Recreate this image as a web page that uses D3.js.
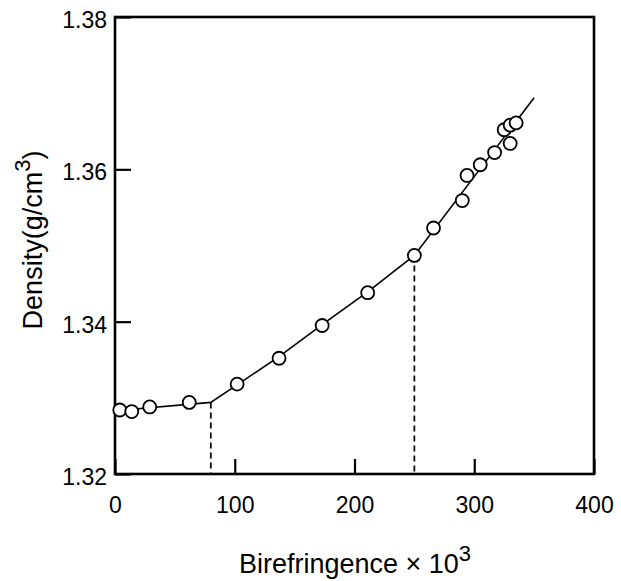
<!DOCTYPE html>
<html>
<head>
<meta charset="utf-8">
<script src="https://cdn.jsdelivr.net/npm/d3@7"></script>
<style>
  body { margin: 0; background: #fff; }
  svg { display: block; font-family: "Liberation Sans", Arial, sans-serif; }
</style>
</head>
<body>
<svg id="chart" width="621" height="581"></svg>
<script>
// measured points
const birefringence = [4, 14, 29, 62, 102, 137, 173, 211, 250, 266, 290, 294, 305, 317, 325, 330, 330, 335]
const density = [1.3284, 1.3282, 1.3288, 1.3294, 1.3318, 1.3352, 1.3395, 1.3438, 1.3487, 1.3523, 1.3559, 1.3592, 1.3606, 1.3622, 1.3652, 1.3658, 1.3634, 1.3661]

// fitted line (broken at the transitions)
const fitX = [0, 80, 137, 173, 211, 250, 350]
const fitY = [1.3283, 1.3294, 1.3354, 1.3396, 1.3439, 1.3487, 1.3694]
const transitions = [80, 250]

const xTicks = [0, 100, 200, 300, 400]
const yTicks = [1.32, 1.34, 1.36, 1.38]

const margin = { left: 115, top: 17, right: 27, bottom: 107 }
const width = 621 - margin.left - margin.right
const height = 581 - margin.top - margin.bottom

const x = d3.scaleLinear().domain([0, 400]).range([0, width])
const y = d3.scaleLinear().domain([1.32, 1.38]).range([height, 0])

const svg = d3.select('#chart')
const g = svg.append('g').attr('transform', `translate(${margin.left},${margin.top})`)

const xAxis = g.append('g')
    .attr('transform', `translate(0,${height})`)
    .call(d3.axisBottom(x).tickValues(xTicks).tickSize(-15).tickPadding(23).tickFormat(d3.format('d')))

const yAxis = g.append('g')
    .call(d3.axisLeft(y).tickValues(yTicks).tickSize(-16).tickPadding(8).tickFormat(d3.format('.2f')))

;[xAxis, yAxis].forEach(a => {
    a.select('.domain').remove()
    a.selectAll('line').attr('stroke', '#000').attr('stroke-width', 2.2)
    a.selectAll('text').attr('fill', '#000').attr('font-size', 23).attr('font-family', null)
})
yAxis.selectAll('text').attr('dy', '0.45em')

// frame
g.append('rect')
    .attr('width', width)
    .attr('height', height)
    .attr('fill', 'none')
    .attr('stroke', '#000')
    .attr('stroke-width', 2.6)

// dashed drop lines
transitions.forEach(t => {
    const i = fitX.indexOf(t)
    g.append('line')
        .attr('x1', x(t)).attr('x2', x(t))
        .attr('y1', y(fitY[i])).attr('y2', height)
        .attr('stroke', '#000')
        .attr('stroke-width', 1.7)
        .attr('stroke-dasharray', '6,4')
})

const line = d3.line().x(d => x(d[0])).y(d => y(d[1]))
g.append('path')
    .datum(fitX.map((v, i) => [v, fitY[i]]))
    .attr('d', line)
    .attr('fill', 'none')
    .attr('stroke', '#000')
    .attr('stroke-width', 1.6)

g.selectAll('circle')
    .data(birefringence.map((v, i) => [v, density[i]]))
    .join('circle')
    .attr('cx', d => x(d[0]))
    .attr('cy', d => y(d[1]))
    .attr('r', 6.5)
    .attr('fill', '#fff')
    .attr('stroke', '#000')
    .attr('stroke-width', 1.8)

// axis titles
const xt = svg.append('text')
    .attr('x', 355)
    .attr('y', 573)
    .attr('text-anchor', 'middle')
    .attr('font-size', 27)
xt.append('tspan').text('Birefringence \u00d7 10')
xt.append('tspan').attr('dy', -12).attr('font-size', 22).text('3')

const yt = svg.append('text')
    .attr('transform', 'translate(42,240) rotate(-90)')
    .attr('text-anchor', 'middle')
    .attr('font-size', 27)
yt.append('tspan').text('Density(g/cm')
yt.append('tspan').attr('dy', -12).attr('font-size', 22).text('3')
yt.append('tspan').attr('dy', 12).text(')')
</script>
</body>
</html>
